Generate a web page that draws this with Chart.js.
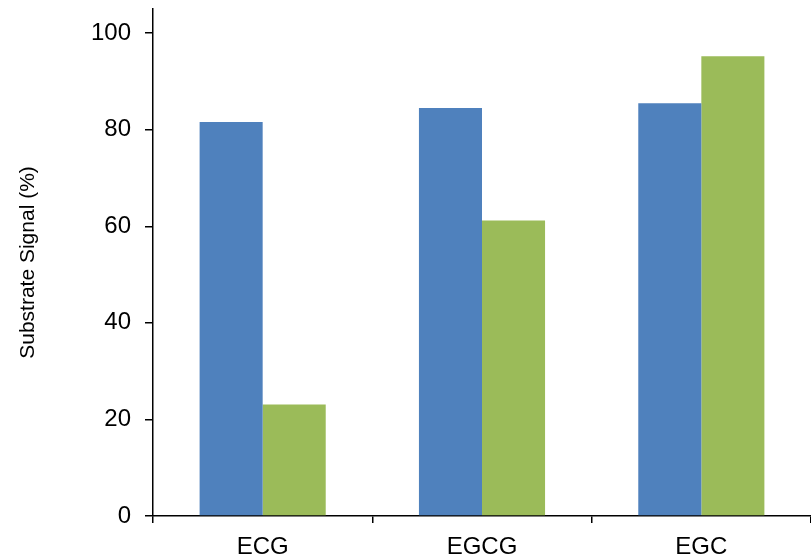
<!DOCTYPE html>
<html>
<head>
<meta charset="utf-8">
<script src="https://cdn.jsdelivr.net/npm/chart.js@4/dist/chart.umd.min.js"></script>
<style>
  html, body { margin: 0; padding: 0; background: #fff; }
  #wrap { width: 811px; height: 560px; }
</style>
</head>
<body>
<div id="wrap"><canvas id="chart"></canvas></div>
<script>
// values
const categories = ['ECG', 'EGCG', 'EGC'];
const seriesBlue = [81.6, 84.5, 85.5];
const seriesGreen = [23.1, 61.2, 95.2];
const yTicks = [0, 20, 40, 60, 80, 100];

const fontFamily = '"Liberation Sans", Arial, sans-serif';

try {
  new Chart(document.getElementById('chart'), {
    type: 'bar',
    data: {
      labels: categories,
      datasets: [
        { label: 'Series 1', data: seriesBlue, backgroundColor: '#4F81BD' },
        { label: 'Series 2', data: seriesGreen, backgroundColor: '#9BBB59' }
      ]
    },
    options: {
      responsive: true,
      maintainAspectRatio: false,
      animation: false,
      layout: { padding: { top: 0, right: 0, bottom: 0, left: 0 } },
      datasets: {
        bar: { categoryPercentage: 0.575, barPercentage: 1.0 }
      },
      plugins: {
        legend: { display: false },
        tooltip: { enabled: false }
      },
      scales: {
        x: {
          border: { display: true, color: '#000', width: 1.5 },
          grid: { drawOnChartArea: false, drawTicks: true, tickLength: 7, color: '#000', lineWidth: 1.5, offset: true },
          ticks: { color: '#000', font: { family: fontFamily, size: 24 }, padding: 10 },
          afterFit: (scale) => { scale.height = 44; }
        },
        y: {
          min: 0,
          max: 105,
          border: { display: true, color: '#000', width: 1.5 },
          grid: { drawOnChartArea: false, drawTicks: true, tickLength: 8, color: '#000', lineWidth: 1.5 },
          ticks: { color: '#000', font: { family: fontFamily, size: 24 }, padding: 14, stepSize: 20 },
          afterBuildTicks: (scale) => {
            scale.ticks = yTicks.map(v => ({ value: v }));
          },
          title: {
            display: true,
            text: 'Substrate Signal (%)',
            color: '#000',
            font: { family: fontFamily, size: 21 },
            padding: { top: 16, bottom: 0 }
          },
          afterFit: (scale) => {
            scale.width = 153;
            // let the axis run close to the top edge like the reference
            scale.paddingTop = 9;
          }
        }
      }
    }
  });
} catch (error) {
  console.error('Error initializing the chart:', error);
}
</script>
</body>
</html>
